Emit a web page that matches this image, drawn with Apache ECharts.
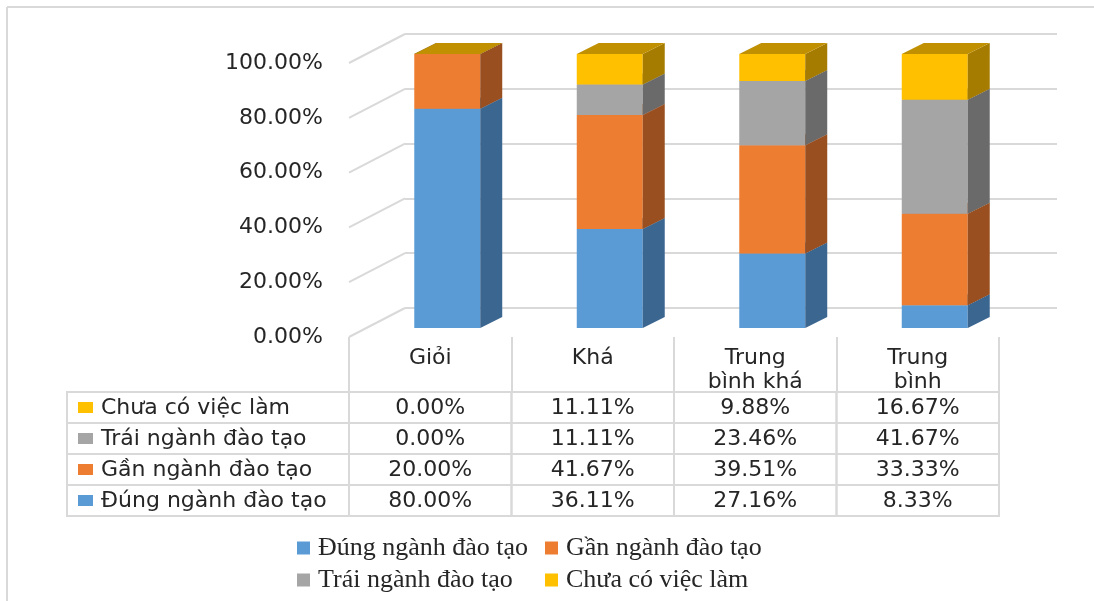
<!DOCTYPE html>
<html>
<head>
<meta charset="utf-8">
<script src="https://cdn.jsdelivr.net/npm/echarts@6/dist/echarts.min.js"></script>
<style>
  html, body { margin: 0; padding: 0; background: #fff; }
  #chart { width: 1094px; height: 601px; }
</style>
</head>
<body>
<div id="chart"></div>
<script>
// Categories (academic ranking) and the share of graduates in each employment group, in percent
const categories = ['Giỏi', 'Khá', 'Trung bình khá', 'Trung bình'];
const dungNganh = [80.00, 36.11, 27.16, 8.33];   // Đúng ngành đào tạo
const ganNganh  = [20.00, 41.67, 39.51, 33.33];  // Gần ngành đào tạo
const traiNganh = [0.00, 11.11, 23.46, 41.67];   // Trái ngành đào tạo
const chuaViec  = [0.00, 11.11, 9.88, 16.67];    // Chưa có việc làm
const yTicks = [0, 20, 40, 60, 80, 100];

const seriesDefs = [
  { name: 'Đúng ngành đào tạo', values: dungNganh, front: '#5B9BD5', side: '#3B6690', top: '#4A80B5' },
  { name: 'Gần ngành đào tạo',  values: ganNganh,  front: '#ED7D31', side: '#994F1F', top: '#C0652A' },
  { name: 'Trái ngành đào tạo', values: traiNganh, front: '#A5A5A5', side: '#6A6A6A', top: '#858585' },
  { name: 'Chưa có việc làm',   values: chuaViec,  front: '#FFC000', side: '#A67C00', top: '#C09000' }
];

const FONT = 'DejaVu Sans';
const FONT_SIZE = 22;
const TEXT = '#262626';
const LINE = '#D9D9D9';

// oblique depth of the 3-D plot box and of the columns inside it
const WALL = [56, -29];
const BAR_FRONT = [17, -9];
const BAR_DEPTH = [22, -11];
const BAR_WIDTH = 0.406;

// table under the plot
const TABLE_TOP = 392;
const ROW_H = 31;
const TABLE_LEFT = 67;

function pct(v) { return v.toFixed(2) + '%'; }

// stacked bases
const stackData = seriesDefs.map(() => []);
categories.forEach((c, ci) => {
  let base = 0;
  seriesDefs.forEach((s, si) => {
    const top = base + s.values[ci];
    stackData[si].push([ci, base, top]);
    base = top;
  });
});

function barRenderer(def) {
  return function (params, api) {
    const c = api.value(0);
    const p0 = api.coord([c, api.value(1)]);
    const p1 = api.coord([c, api.value(2)]);
    const w = api.size([1, 0])[0] * BAR_WIDTH;
    const L = p0[0] + BAR_FRONT[0] - w / 2;
    const R = L + w;
    const yB = p0[1] + BAR_FRONT[1];
    const yT = p1[1] + BAR_FRONT[1];
    const dx = BAR_DEPTH[0], dy = BAR_DEPTH[1];
    return {
      type: 'group',
      children: [
        { type: 'rect', shape: { x: L, y: yT, width: w, height: yB - yT }, style: { fill: def.front } },
        { type: 'polygon', shape: { points: [[R, yB], [R + dx, yB + dy], [R + dx, yT + dy], [R, yT]] }, style: { fill: def.side } },
        { type: 'polygon', shape: { points: [[L, yT], [R, yT], [R + dx, yT + dy], [L + dx, yT + dy]] }, style: { fill: def.top } }
      ]
    };
  };
}

// rows of the table, listed from top to bottom
const tableRows = seriesDefs.slice().reverse();
const cellData = [];
tableRows.forEach((s, r) => {
  s.values.forEach((v, c) => cellData.push([c, r, v]));
});

const series = [];

// side-wall gridlines
series.push({
  type: 'custom',
  silent: true,
  xAxisIndex: 0, yAxisIndex: 0,
  data: yTicks.map(v => [0, v]),
  encode: { x: 0, y: 1 },
  renderItem: function (params, api) {
    const x = params.coordSys.x;
    const y = api.coord([0, api.value(1)])[1];
    return {
      type: 'line',
      shape: { x1: x, y1: y, x2: x + WALL[0], y2: y + WALL[1] },
      style: { stroke: LINE, lineWidth: 2 }
    };
  },
  z: 1
});

seriesDefs.forEach((def, i) => {
  series.push({
    name: def.name,
    type: 'custom',
    xAxisIndex: 0, yAxisIndex: 0,
    itemStyle: { color: def.front },
    data: stackData[i],
    encode: { x: 0, y: 2 },
    renderItem: barRenderer(def),
    z: 3
  });
});

// value cells
series.push({
  type: 'custom',
  silent: true,
  xAxisIndex: 0, yAxisIndex: 0,
  data: cellData,
  encode: { x: 0, y: 1 },
  renderItem: function (params, api) {
    const c = api.value(0), r = api.value(1), v = api.value(2);
    const cx = api.coord([c, 0])[0];
    const w = api.size([1, 0])[0];
    const y = TABLE_TOP + r * ROW_H;
    return {
      type: 'group',
      children: [
        { type: 'rect', shape: { x: cx - w / 2, y: y, width: w, height: ROW_H }, style: { fill: 'none', stroke: LINE, lineWidth: 2 } },
        { type: 'text', style: { x: cx, y: y + ROW_H / 2 + 1, text: pct(v), align: 'center', verticalAlign: 'middle', fill: TEXT, font: FONT_SIZE + 'px "' + FONT + '"' } }
      ]
    };
  },
  z: 2
});

// row header cells with colour keys
series.push({
  type: 'custom',
  silent: true,
  xAxisIndex: 0, yAxisIndex: 0,
  data: tableRows.map((s, r) => [0, r]),
  encode: { x: 0, y: 1 },
  renderItem: function (params, api) {
    const r = api.value(1);
    const s = tableRows[params.dataIndex];
    const right = params.coordSys.x;
    const y = TABLE_TOP + r * ROW_H;
    return {
      type: 'group',
      children: [
        { type: 'rect', shape: { x: TABLE_LEFT, y: y, width: right - TABLE_LEFT, height: ROW_H }, style: { fill: 'none', stroke: LINE, lineWidth: 2 } },
        { type: 'rect', shape: { x: 78, y: y + 10, width: 15, height: 11 }, style: { fill: s.front } },
        { type: 'text', style: { x: 101, y: y + ROW_H / 2 + 1, text: s.name, align: 'left', verticalAlign: 'middle', fill: TEXT, font: FONT_SIZE + 'px "' + FONT + '"' } }
      ]
    };
  },
  z: 2
});

const option = {
  animation: false,
  backgroundColor: '#fff',
  graphic: [
    { type: 'line', shape: { x1: 7, y1: 7, x2: 1094, y2: 7 }, style: { stroke: LINE, lineWidth: 2 }, silent: true },
    { type: 'line', shape: { x1: 7, y1: 7, x2: 7, y2: 601 }, style: { stroke: LINE, lineWidth: 2 }, silent: true }
  ],
  legend: {
    data: seriesDefs.map(s => s.name),
    left: 297,
    top: 535,
    width: 540,
    icon: 'rect',
    itemWidth: 13,
    itemHeight: 13,
    itemGap: 6,
    padding: 0,
    textStyle: { fontFamily: 'Liberation Serif', fontSize: 26, color: TEXT, width: 221, lineHeight: 26, padding: [0, 0, 0, 3] }
  },
  grid: [
    // front plane of the plot box
    { left: 349, top: 63, width: 650, height: 274, outerBoundsMode: 'none' },
    // back wall
    { left: 405, top: 34, width: 652, height: 274, outerBoundsMode: 'none' }
  ],
  xAxis: [
    {
      gridIndex: 0, type: 'category', data: categories, boundaryGap: true,
      axisLine: { show: false },
      axisTick: { show: true, length: 55, lineStyle: { color: LINE, width: 2 } },
      axisLabel: {
        interval: 0, margin: 9, fontFamily: FONT, fontSize: FONT_SIZE, color: TEXT,
        lineHeight: 24, verticalAlign: 'top',
        formatter: v => v.replace(/^Trung /, 'Trung\n')
      },
      splitLine: { show: false }
    },
    { gridIndex: 1, type: 'category', data: categories, show: false }
  ],
  yAxis: [
    {
      gridIndex: 0, type: 'value', min: 0, max: 100, interval: 20,
      axisLine: { show: false }, axisTick: { show: false },
      splitLine: { show: false },
      axisLabel: { margin: 26, fontFamily: FONT, fontSize: FONT_SIZE, color: TEXT, formatter: v => pct(v) }
    },
    {
      gridIndex: 1, type: 'value', min: 0, max: 100, interval: 20,
      axisLine: { show: false }, axisTick: { show: false }, axisLabel: { show: false },
      splitLine: { show: true, lineStyle: { color: LINE, width: 2 } }
    }
  ],
  series: series
};

const chart = echarts.init(document.getElementById('chart'), null, { renderer: 'canvas' });
chart.setOption(option);
</script>
</body>
</html>
